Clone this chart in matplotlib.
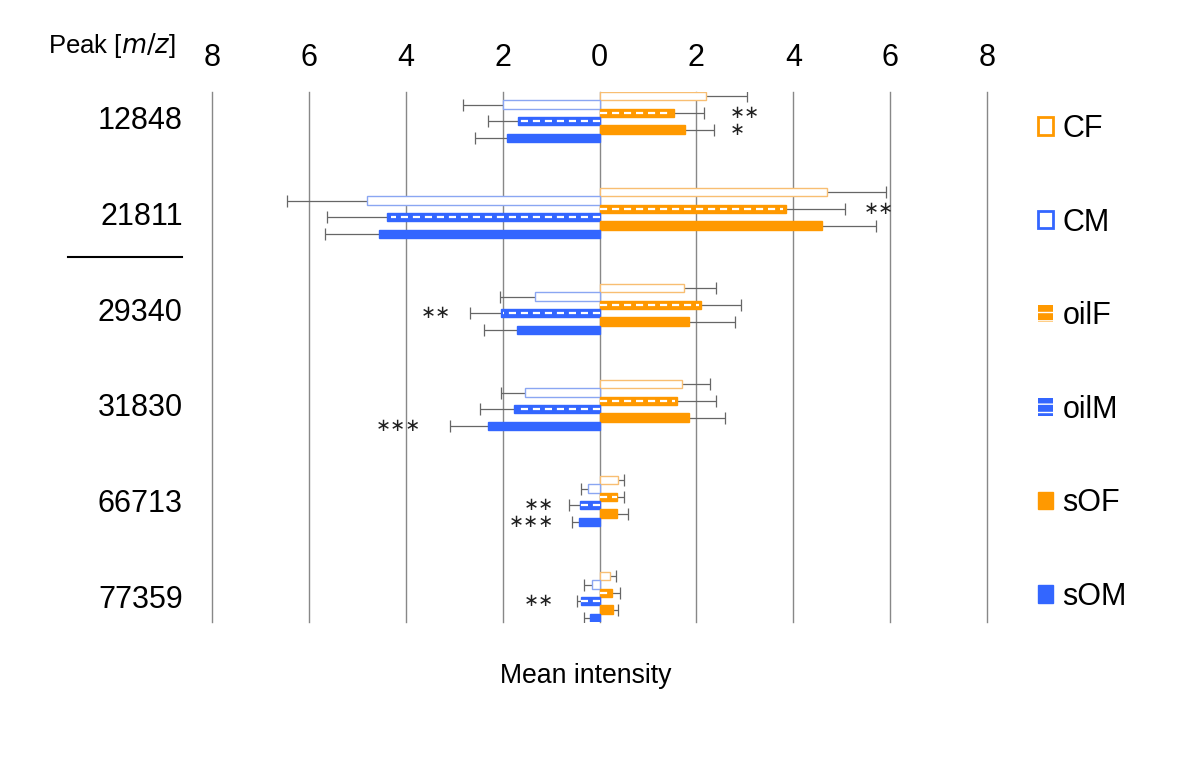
import matplotlib
matplotlib.use("Agg")
import matplotlib.pyplot as plt
import numpy as np
from matplotlib.lines import Line2D
from matplotlib.patches import Patch

plt.rcParams["font.family"] = ["Liberation Sans", "DejaVu Sans"]

# peaks (m/z) and groups
peaks = ["12848", "21811", "29340", "31830", "66713", "77359"]
series = ["CF", "CM", "oilF", "oilM", "sOF", "sOM"]

# mean intensity per group (males are drawn to the left)
cf_mean = [2.19, 4.69, 1.75, 1.71, 0.38, 0.22]
cm_mean = [1.99, 4.80, 1.34, 1.54, 0.24, 0.16]
oilf_mean = [1.53, 3.86, 2.10, 1.59, 0.36, 0.26]
oilm_mean = [1.68, 4.39, 2.03, 1.76, 0.41, 0.38]
sof_mean = [1.76, 4.59, 1.85, 1.85, 0.36, 0.28]
som_mean = [1.90, 4.55, 1.70, 2.31, 0.43, 0.19]

# error (SD)
cf_err = [0.85, 1.22, 0.66, 0.58, 0.12, 0.12]
cm_err = [0.83, 1.66, 0.71, 0.49, 0.14, 0.16]
oilf_err = [0.62, 1.21, 0.82, 0.82, 0.14, 0.17]
oilm_err = [0.62, 1.23, 0.65, 0.70, 0.21, 0.08]
sof_err = [0.60, 1.12, 0.94, 0.74, 0.23, 0.10]
som_err = [0.67, 1.11, 0.68, 0.78, 0.14, 0.13]

# significance marks: peak index, series index, text, x position
star_peak = [0, 0, 1, 2, 3, 4, 4, 5]
star_series = [2, 4, 2, 3, 5, 3, 5, 3]
star_text = ["∗∗", "∗", "∗∗", "∗∗", "∗∗∗", "∗∗", "∗∗∗", "∗∗"]
star_x = [2.69, 2.69, 5.45, -3.06, -3.68, -0.93, -0.93, -0.95]

ORANGE = "#FF9900"
BLUE = "#3366FF"
means = [cf_mean, cm_mean, oilf_mean, oilm_mean, sof_mean, som_mean]
errs = [cf_err, cm_err, oilf_err, oilm_err, sof_err, som_err]
sign = [1, -1, 1, -1, 1, -1]
style = [
    dict(facecolor="white", edgecolor="#F8BE72", linewidth=1.0),
    dict(facecolor="white", edgecolor="#8AA6F2", linewidth=1.0),
    dict(facecolor=ORANGE, edgecolor=ORANGE, linewidth=1.0),
    dict(facecolor=BLUE, edgecolor=BLUE, linewidth=1.0),
    dict(facecolor=ORANGE, edgecolor=ORANGE, linewidth=1.0),
    dict(facecolor=BLUE, edgecolor=BLUE, linewidth=1.0),
]

fig = plt.figure(figsize=(12, 7.84), dpi=100)
ax = fig.add_axes([212 / 1200, 1 - 622 / 784, 775 / 1200, 530 / 784])

h = 50 / 96 / 6
y0 = np.arange(len(peaks))
for k in range(len(series)):
    y = y0 + (k - 2.5) * h
    vals = sign[k] * np.array(means[k])
    ax.barh(y, vals, height=h, zorder=3, **style[k])
    ends = vals + sign[k] * np.array(errs[k])
    # one-sided error bar, cap only at the outer end
    ax.hlines(y, vals, ends, color="#666666", lw=0.9, zorder=2)
    ax.plot(ends, y, ls="none", marker="|", ms=9, mew=0.9, color="#666666", zorder=2)
    if series[k].startswith("oil"):
        for yy, v in zip(y, vals):
            ax.plot([0, v * 0.98], [yy, yy], color="white", lw=1.6,
                    dashes=(3.2, 2.2), zorder=4, solid_capstyle="butt")

for p, s, t, x in zip(star_peak, star_series, star_text, star_x):
    yy = p + (s - 2.5) * h
    ax.text(x, yy, t, ha="left" if x > 0 else "right", va="center",
            fontsize=13, family="DejaVu Sans", color="#222222")

ax.set_xlim(-8, 8)
ax.set_ylim(len(peaks) - 1 + 3 * h, -3 * h)
ax.set_xticks(np.arange(-8, 9, 2))
ax.set_xticklabels([str(abs(v)) for v in range(-8, 9, 2)])
ax.xaxis.tick_top()
ax.tick_params(axis="x", length=0, pad=14, labelsize=22)
ax.set_yticks(y0)
ax.set_yticklabels(peaks)
ax.tick_params(axis="y", length=0, pad=21, labelsize=22)
ax.grid(axis="x", color="#888888", lw=1)
for gl in ax.get_xgridlines():
    gl.set_clip_on(False)
ax.set_axisbelow(True)
for sp in ax.spines.values():
    sp.set_visible(False)

fig.text(48 / 1200, 1 - 45 / 784, "Peak [$\\it{m/z}$]", fontsize=18.5, va="center")
fig.text(586 / 1200, 1 - 676 / 784, "Mean intensity", fontsize=19.2, ha="center", va="center")
fig.add_artist(Line2D([68 / 1200, 182 / 1200], [1 - 257 / 784] * 2, color="black", lw=1.5))

handles = [
    Patch(facecolor="white", edgecolor=ORANGE, lw=2),
    Patch(facecolor="white", edgecolor=BLUE, lw=2),
    Patch(facecolor=ORANGE, edgecolor="white", hatch="--", lw=0),
    Patch(facecolor=BLUE, edgecolor="white", hatch="--", lw=0),
    Patch(facecolor=ORANGE, edgecolor=ORANGE),
    Patch(facecolor=BLUE, edgecolor=BLUE),
]
fig.legend(handles, series, loc="upper left", bbox_to_anchor=(1038 / 1200, 1 - 114 / 784),
           frameon=False, fontsize=22, handlelength=0.5, handleheight=0.5,
           handletextpad=0.3, labelspacing=2.08, borderpad=0, borderaxespad=0)

fig.savefig("out.png", dpi=100)
